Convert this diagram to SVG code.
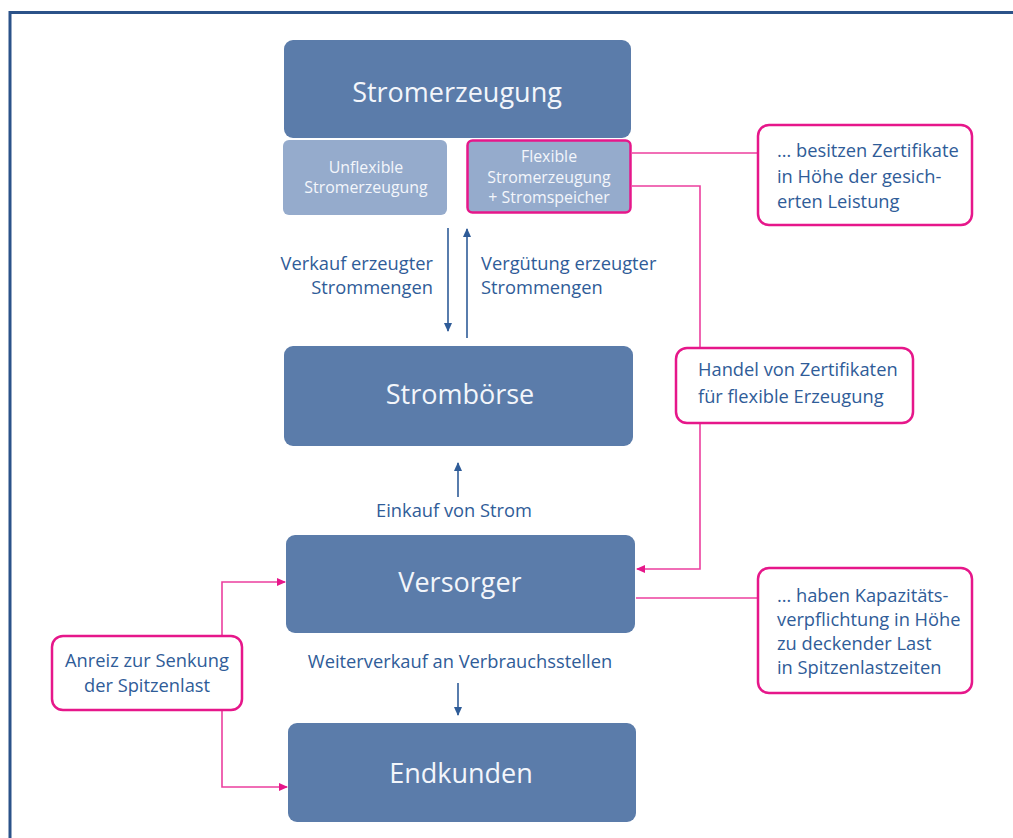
<svg xmlns="http://www.w3.org/2000/svg" width="1013" height="838" viewBox="0 0 1013 838">
<style>
.main{fill:#5b7caa}
.light{fill:#95abcc}
.wt{fill:#f3f6fb;font-family:"Open Sans","Noto Sans",sans-serif;text-anchor:middle}
.big{font-size:27px}
.sm{font-size:15.9px}
.bt{fill:#2f5c98;font-family:"Open Sans","Noto Sans",sans-serif;font-size:18.3px}
.call{fill:#ffffff;stroke:#e6178a;stroke-width:2.5}
.pl{fill:none;stroke:#ec3f9e;stroke-width:1.6}
.bl{fill:none;stroke:#2f5c98;stroke-width:1.6}
</style>
<defs>
<marker id="ab" markerWidth="10" markerHeight="10" refX="8" refY="5" orient="auto" markerUnits="userSpaceOnUse">
<path d="M0,1 L9,5 L0,9 z" fill="#2f5c98"/>
</marker>
<marker id="ap" markerWidth="10" markerHeight="10" refX="8" refY="5" orient="auto" markerUnits="userSpaceOnUse">
<path d="M0,1 L9,5 L0,9 z" fill="#e6178a"/>
</marker>
</defs>
<rect width="1013" height="838" fill="#ffffff"/>
<path d="M10,838 V12.5 H1013" fill="none" stroke="#2b5289" stroke-width="3"/>

<g id="connectors">
<line class="bl" x1="448" y1="228" x2="448" y2="331" marker-end="url(#ab)"/>
<line class="bl" x1="467" y1="338" x2="467" y2="229" marker-end="url(#ab)"/>
<line class="bl" x1="458" y1="497" x2="458" y2="463" marker-end="url(#ab)"/>
<line class="bl" x1="458" y1="683" x2="458" y2="715" marker-end="url(#ab)"/>
<line class="pl" x1="632" y1="153" x2="758" y2="153"/>
<path class="pl" d="M632,186 H700 V349"/>
<path class="pl" d="M700,423 V569 H637" marker-end="url(#ap)"/>
<line class="pl" x1="636" y1="598" x2="758" y2="598"/>
<path class="pl" d="M222,636 V582 H285" marker-end="url(#ap)"/>
<path class="pl" d="M222,710 V787 H287" marker-end="url(#ap)"/>
</g>

<g id="stromerzeugung">
<rect class="main" x="284" y="40" width="347" height="98" rx="9"/>
<text class="wt big" x="457" y="102">Stromerzeugung</text>
</g>
<g id="unflexible">
<rect class="light" x="283" y="140" width="164" height="75" rx="6"/>
<text class="wt sm" x="366" y="173">Unflexible</text>
<text class="wt sm" x="366" y="193">Stromerzeugung</text>
</g>
<g id="flexible">
<rect class="light" x="467.5" y="140.5" width="163" height="72" rx="5" stroke="#e6178a" stroke-width="2.5"/>
<text class="wt sm" x="549" y="162">Flexible</text>
<text class="wt sm" x="549" y="183">Stromerzeugung</text>
<text class="wt sm" x="549" y="203">+ Stromspeicher</text>
</g>
<g id="labels-verkauf">
<text class="bt" x="433" y="270" text-anchor="end">Verkauf erzeugter</text>
<text class="bt" x="433" y="294" text-anchor="end">Strommengen</text>
<text class="bt" x="481" y="270">Vergütung erzeugter</text>
<text class="bt" x="481" y="294">Strommengen</text>
</g>
<g id="stromboerse">
<rect class="main" x="284" y="346" width="349" height="100" rx="9"/>
<text class="wt big" x="460" y="404">Strombörse</text>
</g>
<g id="label-einkauf">
<text class="bt" x="454" y="517" text-anchor="middle">Einkauf von Strom</text>
</g>
<g id="versorger">
<rect class="main" x="286" y="535" width="349" height="98" rx="9"/>
<text class="wt big" x="460" y="592">Versorger</text>
</g>
<g id="label-weiter">
<text class="bt" x="460" y="668" text-anchor="middle">Weiterverkauf an Verbrauchsstellen</text>
</g>
<g id="endkunden">
<rect class="main" x="288" y="723" width="348" height="99" rx="9"/>
<text class="wt big" x="461" y="783">Endkunden</text>
</g>
<g id="callout-zertifikate">
<rect class="call" x="758" y="125" width="214" height="100" rx="11"/>
<text class="bt" x="777" y="157">… besitzen Zertifikate</text>
<text class="bt" x="777" y="183">in Höhe der gesich-</text>
<text class="bt" x="777" y="208">erten Leistung</text>
</g>
<g id="callout-handel">
<rect class="call" x="676" y="348" width="237" height="75" rx="11"/>
<text class="bt" x="698" y="376">Handel von Zertifikaten</text>
<text class="bt" x="698" y="403">für flexible Erzeugung</text>
</g>
<g id="callout-kapazitaet">
<rect class="call" x="758" y="568" width="214" height="125" rx="11"/>
<text class="bt" x="777" y="602">… haben Kapazitäts-</text>
<text class="bt" x="777" y="626">verpflichtung in Höhe</text>
<text class="bt" x="777" y="650">zu deckender Last</text>
<text class="bt" x="777" y="674">in Spitzenlastzeiten</text>
</g>
<g id="callout-anreiz">
<rect class="call" x="52" y="636" width="190" height="74" rx="11"/>
<text class="bt" x="147" y="667" text-anchor="middle">Anreiz zur Senkung</text>
<text class="bt" x="147" y="692" text-anchor="middle">der Spitzenlast</text>
</g>
</svg>
